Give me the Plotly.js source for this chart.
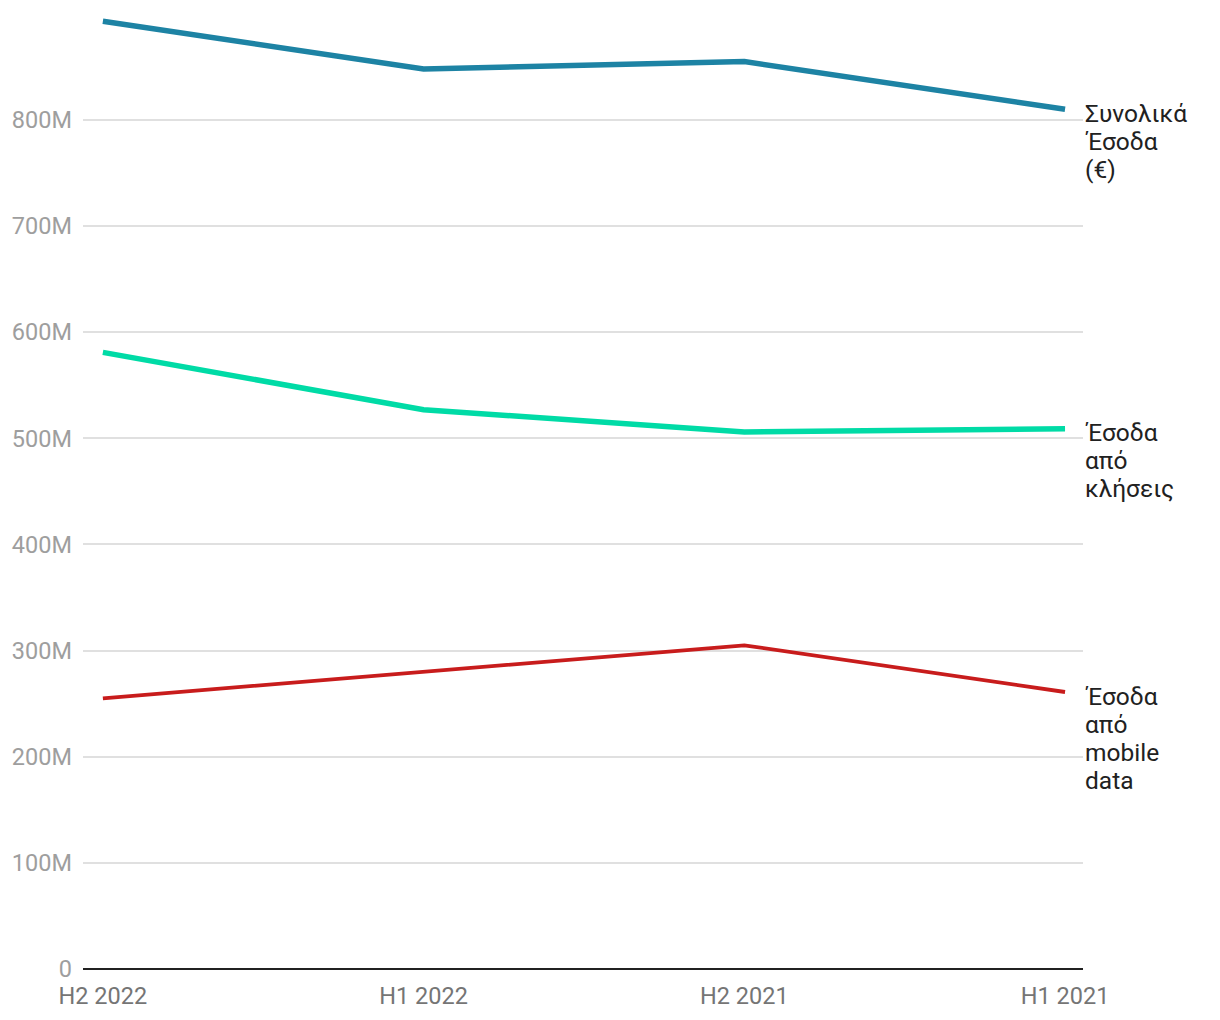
<!DOCTYPE html>
<html>
<head>
<meta charset="utf-8">
<script src="https://cdn.plot.ly/plotly-3.0.1.min.js"></script>
<style>html,body{margin:0;padding:0;background:#fff;}#chart{width:1220px;height:1020px;}</style>
</head>
<body>
<div id="chart"></div>
<script>
const periods = ["H2 2022", "H1 2022", "H2 2021", "H1 2021"];
const totalRevenue = [893e6, 848e6, 855e6, 810e6];
const callsRevenue = [581e6, 527e6, 506e6, 509e6];
const mobileDataRevenue = [255e6, 280e6, 305e6, 261e6];
const seriesNameLines = [
  ["Συνολικά", "Έσοδα", "(€)"],
  ["Έσοδα", "από", "κλήσεις"],
  ["Έσοδα", "από", "mobile", "data"]
];
const yTickVals = [0, 100e6, 200e6, 300e6, 400e6, 500e6, 600e6, 700e6, 800e6];
const yTickText = ["0", "100M", "200M", "300M", "400M", "500M", "600M", "700M", "800M"];

const colors = ["#1d83a4", "#00dba6", "#c81c1c"];
const widths = [5.5, 5.5, 3.8];
const seriesData = [totalRevenue, callsRevenue, mobileDataRevenue];

const traces = seriesData.map((vals, i) => ({
  x: periods,
  y: vals,
  type: "scatter",
  mode: "lines",
  line: {color: colors[i], width: widths[i]},
  hoverinfo: "skip",
  showlegend: false
}));

const annotations = [];
seriesData.forEach((vals, i) => {
  seriesNameLines[i].forEach((line, j) => {
    annotations.push({
      x: periods[periods.length - 1],
      y: vals[vals.length - 1],
      xref: "x", yref: "y",
      text: line,
      showarrow: false,
      xanchor: "left",
      yanchor: "middle",
      align: "left",
      xshift: 18,
      yshift: -4 - 28 * j,
      font: {family: "Roboto", size: 24.5, color: "#212121"}
    });
  });
});

const layout = {
  width: 1220,
  height: 1020,
  margin: {l: 83, r: 137, t: 10, b: 51},
  paper_bgcolor: "#ffffff",
  plot_bgcolor: "#ffffff",
  font: {family: "Roboto"},
  xaxis: {
    type: "category",
    range: [-0.062, 3.056],
    showgrid: false,
    zeroline: false,
    showline: false,
    ticks: "",
    ticklabelstandoff: 10,
    tickfont: {family: "Roboto", size: 23.5, color: "#757575"}
  },
  yaxis: {
    range: [0, 903.6e6],
    tickvals: yTickVals,
    ticktext: yTickText,
    showgrid: true,
    gridcolor: "#e0e0e0",
    gridwidth: 2,
    zeroline: true,
    zerolinecolor: "#212121",
    zerolinewidth: 2,
    ticks: "",
    ticklabelstandoff: 10,
    tickfont: {family: "Roboto", size: 23.5, color: "#9e9e9e"}
  },
  annotations: annotations
};

Plotly.newPlot("chart", traces, layout, {displayModeBar: false, staticPlot: true});
</script>
</body>
</html>
